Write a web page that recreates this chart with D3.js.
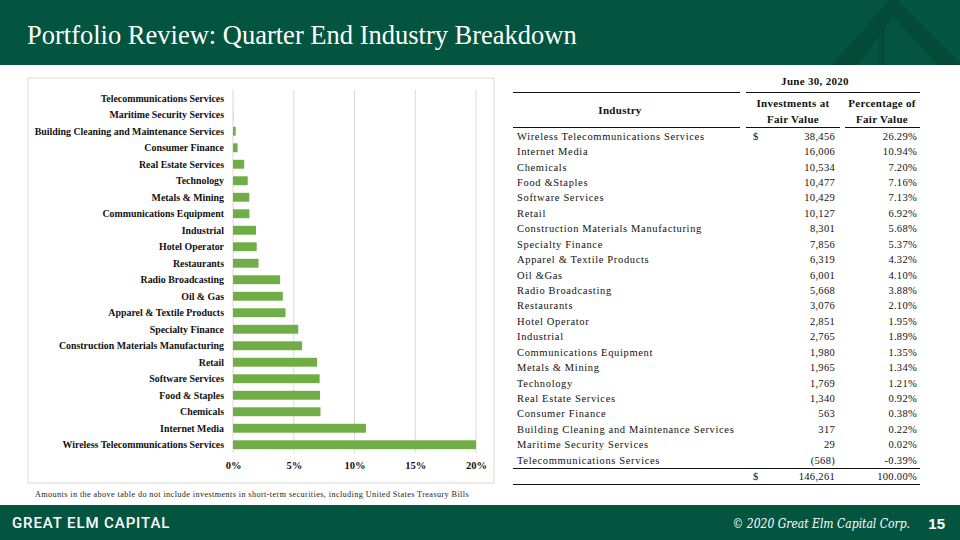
<!DOCTYPE html>
<html><head><meta charset="utf-8">
<script src="https://cdn.jsdelivr.net/npm/d3@7"></script>
<style>
html,body{margin:0;padding:0;background:#fff;}
svg{display:block;}
</style></head>
<body>
<svg id="c" width="960" height="540"></svg>
<script>
// ---- data ----
const industries = ["Wireless Telecommunications Services","Internet Media","Chemicals","Food & Staples","Software Services","Retail","Construction Materials Manufacturing","Specialty Finance","Apparel & Textile Products","Oil & Gas","Radio Broadcasting","Restaurants","Hotel Operator","Industrial","Communications Equipment","Metals & Mining","Technology","Real Estate Services","Consumer Finance","Building Cleaning and Maintenance Services","Maritime Security Services","Telecommunications Services"];
const tableNames = ["Wireless Telecommunications Services","Internet Media","Chemicals","Food &Staples","Software Services","Retail","Construction Materials Manufacturing","Specialty Finance","Apparel & Textile Products","Oil &Gas","Radio Broadcasting","Restaurants","Hotel Operator","Industrial","Communications Equipment","Metals & Mining","Technology","Real Estate Services","Consumer Finance","Building Cleaning and Maintenance Services","Maritime Security Services","Telecommunications Services"];
const fairValues = ["38,456","16,006","10,534","10,477","10,429","10,127","8,301","7,856","6,319","6,001","5,668","3,076","2,851","2,765","1,980","1,965","1,769","1,340","563","317","29","(568)"];
const percents = [26.29,10.94,7.20,7.16,7.13,6.92,5.68,5.37,4.32,4.10,3.88,2.10,1.95,1.89,1.35,1.34,1.21,0.92,0.38,0.22,0.02,-0.39];
const xTicks = [0,0.05,0.10,0.15,0.20];
const totalValue = "146,261";
const totalPercent = "100.00%";

const svg = d3.select("#c");
const GREEN = "#04553f";
const SERIF = "'Liberation Serif', serif";

// ---- header ----
svg.append("rect").attr("x",0).attr("y",0).attr("width",960).attr("height",65).attr("fill",GREEN);
const deco = svg.append("g").attr("fill","#034b37");
deco.append("polygon").attr("points","832,65 893,-4 962,65 938,65 893,16 858,65");
deco.append("polygon").attr("points","879,30 885,24 885,65 879,65");
svg.append("text").attr("x",27).attr("y",44).attr("fill","#fff")
  .style("font-family",SERIF).style("font-size","26.5px")
  .text("Portfolio Review: Quarter End Industry Breakdown");

// ---- footer ----
svg.append("rect").attr("x",0).attr("y",505).attr("width",960).attr("height",35).attr("fill",GREEN);
svg.append("text").attr("x",12).attr("y",528).attr("fill","#fff")
  .style("font-family","Roboto, sans-serif").style("font-weight","500").style("font-size","15px").style("letter-spacing","0.9px")
  .text("GREAT ELM CAPITAL");
svg.append("text").attr("x",910).attr("y",528).attr("fill","#fff").attr("text-anchor","end")
  .style("font-family","'DejaVu Serif', serif").style("font-style","italic").style("font-stretch","condensed").style("font-size","12px")
  .text("© 2020 Great  Elm Capital Corp.");
svg.append("text").attr("x",945).attr("y",529).attr("fill","#fff").attr("text-anchor","end")
  .style("font-family","'Liberation Sans', sans-serif").style("font-weight","bold").style("font-size","15px")
  .text("15");

// ---- chart ----
svg.append("rect").attr("x",28).attr("y",78).attr("width",466).attr("height",405)
  .attr("fill","#fff").attr("stroke","#d9d9d9").attr("stroke-width",1);

const chartOrder = industries.slice().reverse();
const x = d3.scaleLinear().domain([0,0.2]).range([233,476]).clamp(true);
const y = d3.scaleBand().domain(chartOrder).range([90,453]).paddingInner(0.46).paddingOuter(0.23);

svg.append("g").selectAll("line").data(xTicks).join("line")
  .attr("x1",d=>x(d)).attr("x2",d=>x(d)).attr("y1",90).attr("y2",453)
  .attr("stroke","#d9d9d9").attr("stroke-width",1);

const pctByName = new Map(industries.map((n,i)=>[n,percents[i]/100]));
svg.append("g").selectAll("rect").data(chartOrder).join("rect")
  .attr("x",x(0))
  .attr("y",d=>y(d))
  .attr("height",y.bandwidth())
  .attr("width",d=>Math.max(0,x(pctByName.get(d))-x(0)))
  .attr("fill","#70ad47");

svg.append("g").selectAll("text").data(chartOrder).join("text")
  .attr("x",224).attr("y",d=>y(d)+y.bandwidth()/2).attr("dy","0.35em")
  .attr("text-anchor","end")
  .style("font-family",SERIF).style("font-weight","bold").style("font-size","9.9px").attr("fill","#111")
  .text(d=>d);

const xAxis = d3.axisBottom(x).tickValues(xTicks).tickFormat(d3.format(".0%")).tickSize(0).tickPadding(0);
const ax = svg.append("g").attr("transform","translate(0,462)").call(xAxis);
ax.select(".domain").remove();
ax.selectAll("text").style("font-family",SERIF).style("font-weight","bold").style("font-size","10.5px").attr("fill","#111");

svg.append("text").attr("x",35).attr("y",497).attr("fill","#222")
  .style("font-family",SERIF).style("font-size","8.2px").style("letter-spacing","0.4px")
  .text("Amounts in the above table do not include investments in short-term securities, including United States Treasury Bills");

// ---- table ----
const T = svg.append("g").style("font-family",SERIF).attr("fill","#111");
const hdr = (x0,y0,t)=>T.append("text").attr("x",x0).attr("y",y0).attr("text-anchor","middle")
  .style("font-weight","bold").style("font-size","11px").style("letter-spacing","0.3px").text(t);
hdr(815,85,"June 30, 2020");
hdr(620,114,"Industry");
hdr(793,107,"Investments at");
hdr(793,123,"Fair Value");
hdr(882,107,"Percentage of");
hdr(882,123,"Fair Value");

const hline = (x1,x2,yy)=>svg.append("line").attr("x1",x1).attr("x2",x2).attr("y1",yy).attr("y2",yy).attr("stroke","#111").attr("stroke-width",1.2);
hline(513,740,92.5); hline(746,920,92.5);
hline(513,740,127.5); hline(746,840,127.5); hline(845,920,127.5);
hline(513,920,468.5);
hline(513,920,484.5);

const ry = d3.scaleBand().domain(tableNames).range([128.3,467.7]);
const rows = T.selectAll("g.row").data(tableNames).join("g").attr("class","row")
  .attr("transform",d=>`translate(0,${ry(d)+ry.bandwidth()/2})`);
rows.append("text").attr("x",517).attr("dy","0.35em").style("font-size","10.5px").style("letter-spacing","0.65px").text(d=>d);
rows.append("text").attr("x",835).attr("dy","0.35em").attr("text-anchor","end").style("font-size","10.5px").style("letter-spacing","0.3px")
  .text((d,i)=>fairValues[i]);
rows.append("text").attr("x",917).attr("dy","0.35em").attr("text-anchor","end").style("font-size","10.5px").style("letter-spacing","0.3px")
  .text((d,i)=>percents[i].toFixed(2)+"%");
T.append("text").attr("x",753).attr("y",ry(tableNames[0])+ry.bandwidth()/2).attr("dy","0.35em").style("font-size","10.5px").text("$");
T.append("text").attr("x",753).attr("y",476.5).attr("dy","0.35em").style("font-size","10.5px").text("$");
T.append("text").attr("x",835).attr("y",476.5).attr("dy","0.35em").attr("text-anchor","end").style("font-size","10.5px").style("letter-spacing","0.3px").text(totalValue);
T.append("text").attr("x",917).attr("y",476.5).attr("dy","0.35em").attr("text-anchor","end").style("font-size","10.5px").style("letter-spacing","0.3px").text(totalPercent);
</script>
</body></html>
